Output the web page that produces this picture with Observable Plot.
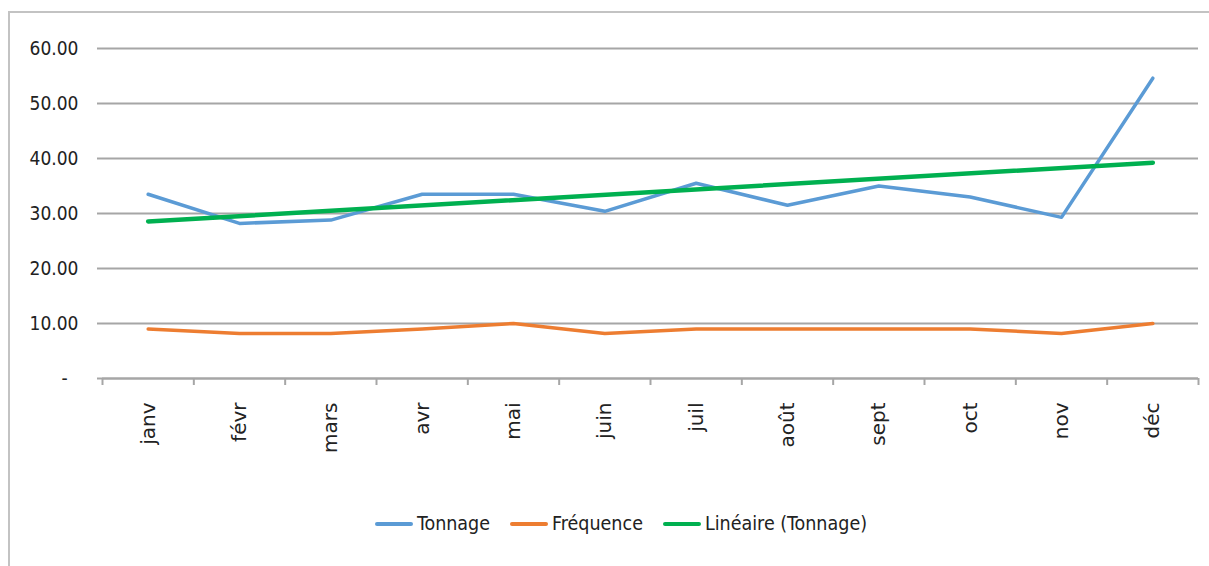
<!DOCTYPE html>
<html><head><meta charset="utf-8">
<script src="https://cdn.jsdelivr.net/npm/d3@7"></script>
<script src="https://cdn.jsdelivr.net/npm/@observablehq/plot@0.6"></script>
<style>
html,body{margin:0;padding:0;background:#fff;overflow:hidden}
#wrap{position:relative;width:1209px;height:566px;overflow:hidden;background:#fff}
#frame{position:absolute;left:8px;top:11px;width:1240px;height:620px;border:2px solid #c3c3c3;box-sizing:border-box}
#chart{position:absolute;left:0;top:0}
#legend{position:absolute;top:512px;left:375px;display:flex;align-items:center;font-family:"Liberation Sans Narrow","DejaVu Sans Condensed",sans-serif;font-size:19.5px;color:#222}
#legend .item{display:flex;align-items:center;margin-right:20px}
#legend .sw{width:38px;height:4px;border-radius:2px;margin-right:4px}
</style>
</head><body>
<div id="wrap"><div id="frame"></div><div id="chart"></div><div id="legend"></div></div>
<script>
const months = ["janv","févr","mars","avr","mai","juin","juil","août","sept","oct","nov","déc"];
const tonnage = [33.5, 28.2, 28.8, 33.5, 33.5, 30.4, 35.5, 31.5, 35.0, 33.0, 29.3, 54.6];
const frequence = [9, 8.2, 8.2, 9, 10, 8.2, 9, 9, 9, 9, 8.2, 10];
const yTicks = [0, 10, 20, 30, 40, 50, 60];
const seriesNames = ["Tonnage", "Fréquence", "Linéaire (Tonnage)"];
const colors = ["#5b9bd5", "#ed7d31", "#00b050"];

const data = months.map((m, i) => ({i, month: m, tonnage: tonnage[i], frequence: frequence[i]}));
const boundaries = d3.range(months.length + 1).map(k => k - 0.5);

const chart = Plot.plot({
  width: 1209,
  height: 500,
  marginLeft: 102,
  marginRight: 11,
  marginTop: 48,
  marginBottom: 122,
  style: {background: "transparent", overflow: "visible"},
  x: {type: "linear", domain: [-0.5, months.length - 0.5]},
  y: {domain: [0, 60]},
  marks: [
    Plot.gridY(yTicks, {stroke: "#a6a6a6", strokeOpacity: 1, strokeWidth: 2}),
    Plot.ruleY([0], {stroke: "#a6a6a6", strokeWidth: 2}),
    Plot.axisY({ticks: yTicks, tickSize: 5, tickPadding: 19, stroke: "#a6a6a6", strokeWidth: 2,
      tickFormat: d => d === 0 ? "-\u00a0\u00a0" : d.toFixed(2),
      fontFamily: "'Liberation Sans Narrow','DejaVu Sans Condensed',sans-serif", fontSize: 19, fill: "#222", label: null}),
    Plot.axisX({ticks: boundaries, tickSize: 7, stroke: "#a6a6a6", strokeWidth: 2, tickFormat: () => "", label: null}),
    Plot.axisX({ticks: d3.range(months.length), tickSize: 0, tickPadding: 24, tickRotate: -90,
      tickFormat: i => months[i], fontFamily: "'DejaVu Sans',sans-serif", fontSize: 20,
      fill: "#222", label: null, style: {letterSpacing: "4px"}}),
    Plot.line(data, {x: "i", y: "frequence", stroke: colors[1], strokeWidth: 3.5}),
    Plot.line(data, {x: "i", y: "tonnage", stroke: colors[0], strokeWidth: 3.5}),
    Plot.linearRegressionY(data, {x: "i", y: "tonnage", stroke: colors[2], strokeWidth: 4.5, ci: 0})
  ]
});
document.getElementById("chart").appendChild(chart);

const legend = document.getElementById("legend");
seriesNames.forEach((name, k) => {
  const it = document.createElement("div");
  it.className = "item";
  const sw = document.createElement("div");
  sw.className = "sw";
  sw.style.background = colors[k];
  const t = document.createElement("span");
  t.textContent = name;
  it.appendChild(sw); it.appendChild(t);
  legend.appendChild(it);
});
</script>
</body></html>
